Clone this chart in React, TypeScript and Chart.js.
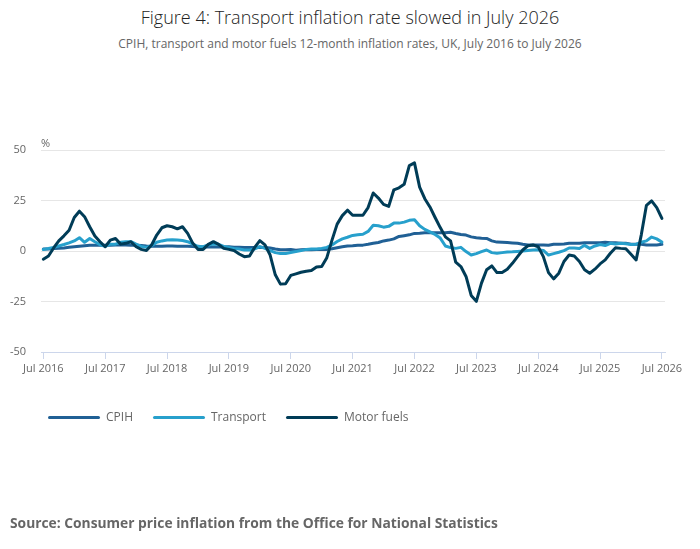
import React, { useEffect, useRef } from "react";
import { Chart, registerables } from "chart.js";

Chart.register(...registerables);

const tickLabels = [
  "Jul 2016", "Jul 2017", "Jul 2018", "Jul 2019", "Jul 2020", "Jul 2021",
  "Jul 2022", "Jul 2023", "Jul 2024", "Jul 2025", "Jul 2026",
];

// Monthly values, Jul 2016 .. Jul 2026 (121 months)
const cpih = [
  1.0, 1.0, 1.2, 1.3, 1.5, 1.8,
  2.1, 2.4, 2.6, 2.8, 2.8, 2.8, 2.8, 2.9, 3.0, 3.0, 3.0, 2.9,
  2.8, 2.7, 2.5, 2.4, 2.4, 2.4, 2.5, 2.5, 2.4, 2.4, 2.3, 2.2,
  2.0, 2.0, 2.0, 2.0, 2.0, 2.0, 2.1, 1.9, 1.8, 1.7, 1.7, 1.7,
  1.8, 1.7, 1.5, 1.0, 0.6, 0.6, 0.8, 0.4, 0.6, 0.8, 0.6, 0.8,
  0.9, 0.8, 1.1, 1.6, 2.1, 2.5, 2.6, 2.8, 2.9, 3.3, 3.8, 4.2,
  5.0, 5.4, 6.0, 7.2, 7.6, 8.0, 8.7, 8.8, 9.0, 9.0, 9.0, 9.0,
  9.0, 9.3, 8.7, 8.2, 7.9, 7.0, 6.6, 6.3, 6.2, 5.0, 4.4, 4.3,
  4.2, 4.0, 3.8, 3.3, 3.0, 3.0, 3.0, 3.0, 2.8, 3.3, 3.4, 3.5,
  3.8, 3.8, 3.8, 4.1, 4.1, 4.1, 4.1, 4.3, 4.1, 4.1, 3.8, 3.8,
  3.4, 3.3, 3.3, 3.0, 3.0, 3.0, 3.3,
];

const transport = [
  0.7, 1.2, 1.8, 2.5, 3.2, 4.0,
  5.0, 6.6, 4.3, 6.2, 4.6, 3.1, 2.3, 3.4, 3.4, 4.3, 4.6, 4.6,
  3.4, 2.3, 1.8, 2.6, 4.3, 5.0, 5.4, 5.6, 5.4, 5.2, 4.6, 3.4,
  2.3, 2.1, 3.0, 3.4, 3.3, 2.3, 1.8, 1.3, 1.0, 0.5, 0.5, 1.0,
  2.2, 1.3, 0.2, -0.8, -1.2, -1.2, -0.7, -0.3, 0.2, 0.8, 1.0, 1.0,
  1.3, 1.8, 3.0, 4.7, 6.0, 6.8, 7.7, 8.0, 8.3, 9.7, 12.7, 12.5,
  11.8, 12.2, 13.8, 13.8, 14.3, 15.2, 15.5, 12.5, 10.7, 9.5, 8.2, 6.4,
  2.5, 1.7, 1.3, 1.8, -0.3, -2.0, -1.3, -0.3, 0.5, -0.8, -1.1, -0.8,
  -0.5, -0.4, -0.2, 0.0, 0.3, 0.5, 0.6, 0.3, -2.0, -1.3, -0.6, 0.2,
  1.5, 1.5, 1.2, 2.8, 1.3, 2.5, 3.2, 2.7, 3.8, 3.5, 3.8, 3.6,
  3.2, 3.4, 4.3, 5.0, 6.9, 6.0, 4.4,
];

const motorFuels = [
  -4.1, -2.5, 1.5, 5.0, 7.5, 10.3,
  16.6, 19.7, 17.0, 12.0, 7.4, 4.6, 2.1, 5.4, 6.2, 3.4, 3.8, 4.6,
  2.1, 0.8, 0.2, 3.0, 7.9, 11.5, 12.5, 12.0, 11.0, 12.0, 8.7, 3.8,
  0.8, 0.8, 3.3, 4.6, 3.3, 1.3, 0.8, 0.2, -1.5, -2.8, -2.5, 1.8,
  5.1, 3.0, -2.0, -11.8, -16.4, -16.2, -12.1, -11.3, -10.5, -10.0, -9.7, -7.9,
  -7.7, -3.3, 5.4, 13.3, 17.5, 20.2, 17.7, 17.7, 17.7, 21.5, 28.7, 26.2,
  23.1, 22.1, 30.3, 31.3, 33.0, 42.3, 43.6, 31.6, 25.9, 21.8, 16.6, 11.6,
  7.0, 5.0, -5.5, -7.7, -12.6, -22.0, -24.9, -15.9, -9.3, -7.4, -10.7, -10.7,
  -9.0, -6.1, -2.8, 0.5, 2.6, 3.0, 2.1, -2.8, -10.7, -13.8, -11.0, -5.2,
  -2.0, -2.5, -5.2, -9.3, -11.0, -9.0, -6.4, -4.4, -1.1, 1.6, 1.3, 1.1,
  -1.6, -4.4, 8.0, 22.6, 24.8, 21.5, 16.1,
];

const seriesNames = ["CPIH", "Transport", "Motor fuels"];
const seriesColors = ["#206095", "#27a0cc", "#003c57"];

const FONT = "'Open Sans', 'Noto Sans', sans-serif";
const GREY = "#666666";

export default function App() {
  const canvasRef = useRef<HTMLCanvasElement | null>(null);

  useEffect(() => {
    document.body.style.margin = "0";
    const canvas = canvasRef.current;
    if (!canvas) return;
    const toPts = (arr: number[]) => arr.map((v, i) => ({ x: i, y: v }));
    const all = [cpih, transport, motorFuels];
    const chart = new Chart(canvas, {
      type: "line",
      data: {
        datasets: all.map((arr, k) => ({
          label: seriesNames[k],
          data: toPts(arr),
          borderColor: seriesColors[k],
          backgroundColor: seriesColors[k],
          borderWidth: 3,
          pointRadius: 0,
          tension: 0,
          borderCapStyle: "round" as const,
          borderJoinStyle: "round" as const,
          order: 3 - k,
        })),
      },
      options: {
        animation: false,
        responsive: true,
        maintainAspectRatio: false,
        layout: { padding: { top: 150, right: 35, bottom: 157, left: 0 } },
        plugins: {
          legend: { display: false },
          tooltip: { enabled: false },
          title: { display: false },
        },
        scales: {
          x: {
            type: "linear",
            min: -0.45,
            max: 120.6,
            afterBuildTicks: (scale: any) => {
              scale.ticks = tickLabels.map((_, i) => ({ value: i * 12 }));
            },
            afterFit: (scale: any) => {
              scale.height = 40;
            },
            grid: {
              display: true,
              drawOnChartArea: false,
              drawTicks: true,
              tickLength: 7,
              color: "#ccd6eb",
            },
            border: { display: true, color: "#ccd6eb", width: 1 },
            ticks: {
              autoSkip: false,
              maxRotation: 0,
              padding: 3,
              color: GREY,
              font: { family: FONT, size: 11 },
              callback: (v: any) => tickLabels[Math.round(Number(v) / 12)] ?? "",
            },
          },
          y: {
            min: -50,
            max: 50,
            afterFit: (scale: any) => {
              scale.width = 41;
            },
            grid: {
              drawTicks: false,
              color: (ctx: any) =>
                ctx.tick && ctx.tick.value === -50 ? "rgba(0,0,0,0)" : "#e6e6e6",
            },
            border: { display: false },
            ticks: {
              stepSize: 25,
              padding: 15,
              color: GREY,
              font: { family: FONT, size: 11 },
            },
          },
        },
      },
    });
    return () => chart.destroy();
  }, []);

  const legendItem = (i: number, swatchLeft: number, textLeft: number) => (
    <React.Fragment key={i}>
      <div
        style={{
          position: "absolute",
          left: swatchLeft,
          top: 416,
          width: 52,
          height: 3,
          borderRadius: 1.5,
          background: seriesColors[i],
        }}
      />
      <div
        style={{
          position: "absolute",
          left: textLeft,
          top: 408,
          fontFamily: FONT,
          fontSize: 12,
          lineHeight: "18px",
          color: GREY,
          whiteSpace: "nowrap",
        }}
      >
        {seriesNames[i]}
      </div>
    </React.Fragment>
  );

  return (
    <div style={{ position: "relative", width: 700, height: 549, background: "#fff", overflow: "hidden" }}>
      <div
        style={{
          position: "absolute",
          left: 0,
          top: 4,
          width: 700,
          textAlign: "center",
          fontFamily: FONT,
          fontWeight: 300,
          fontSize: 18,
          lineHeight: "26px",
          color: "#222222",
        }}
      >
        Figure 4: Transport inflation rate slowed in July 2026
      </div>
      <div
        style={{
          position: "absolute",
          left: 0,
          top: 35,
          width: 700,
          textAlign: "center",
          fontFamily: FONT,
          fontSize: 12,
          lineHeight: "18px",
          color: GREY,
        }}
      >
        CPIH, transport and motor fuels 12-month inflation rates, UK, July 2016 to July 2026
      </div>
      <div style={{ position: "absolute", left: 0, top: 0, width: 700, height: 549 }}>
        <canvas ref={canvasRef} />
      </div>
      <div
        style={{
          position: "absolute",
          left: 41,
          top: 136,
          fontFamily: FONT,
          fontSize: 11,
          lineHeight: "14px",
          color: GREY,
        }}
      >
        %
      </div>
      {legendItem(0, 48, 106)}
      {legendItem(1, 153, 211)}
      {legendItem(2, 286, 344)}
      <div
        style={{
          position: "absolute",
          left: 10,
          top: 513,
          fontFamily: FONT,
          fontWeight: 700,
          fontSize: 13.8,
          lineHeight: "20px",
          color: GREY,
          whiteSpace: "nowrap",
        }}
      >
        Source: Consumer price inflation from the Office for National Statistics
      </div>
    </div>
  );
}
